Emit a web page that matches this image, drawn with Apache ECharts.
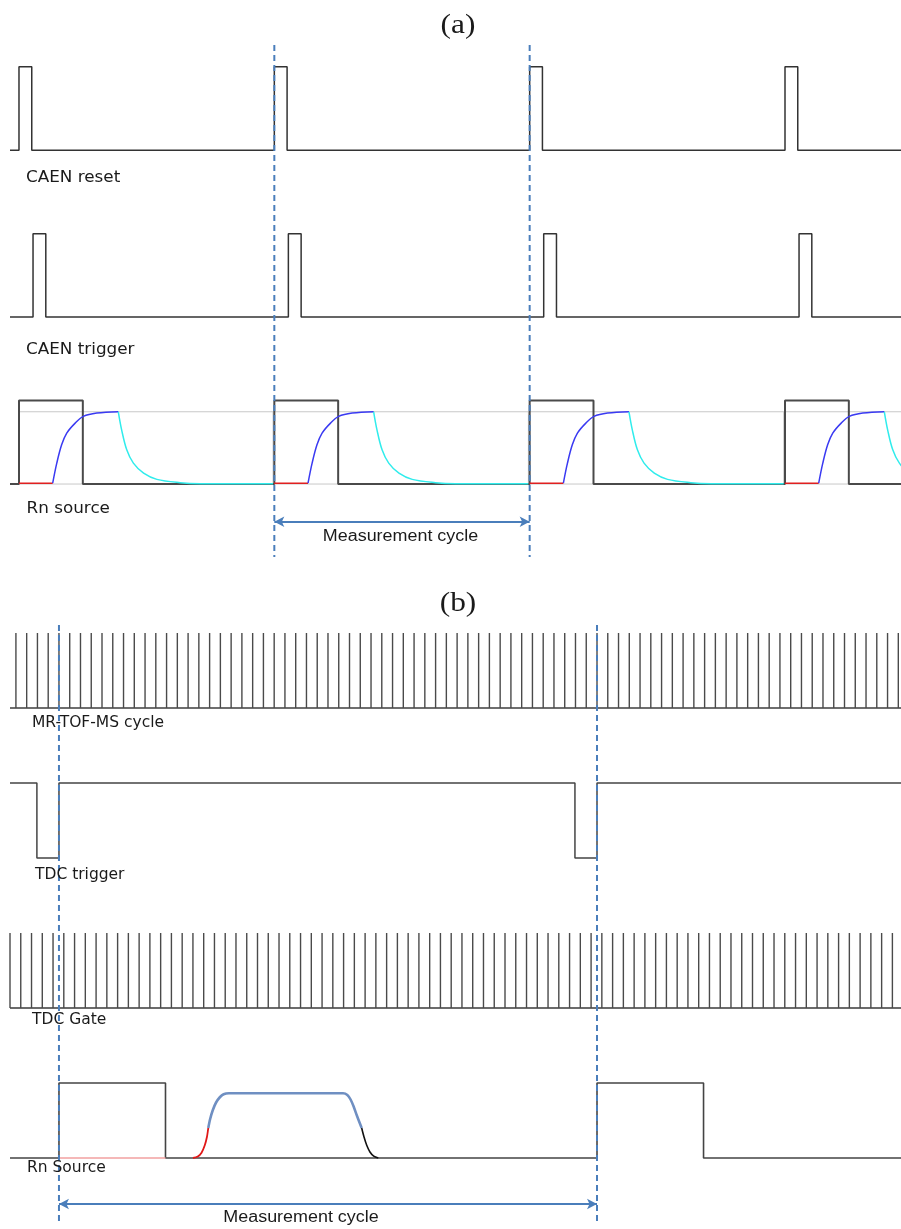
<!DOCTYPE html>
<html>
<head>
<meta charset="utf-8">
<script src="https://cdn.jsdelivr.net/npm/echarts@6/dist/echarts.min.js"></script>
<style>
  html, body { margin: 0; padding: 0; background: #ffffff; }
  #chart { width: 901px; height: 1229px; }
</style>
</head>
<body>
<div id="chart"></div>
<script>
// ===== Panel (a): CAEN-driven sequence, time in measurement cycles =====
const caenResetStarts = [0, 1, 2, 3];
const caenResetWidth = 0.05;
const caenTriggerStarts = [0.055, 1.055, 2.055, 3.055];
const caenTriggerWidth = 0.05;
const rnSourceOnA = [[0, 0.25], [1, 1.25], [2, 2.25], [3, 3.25]];
const cycleStartsA = [0, 1, 2, 3];
// activity within one cycle: [fraction of cycle, relative level]
const rnWaitA = [[0, 0.01], [0.132, 0.01]];
const rnRiseA = [[0.132, 0.01], [0.148, 0.25], [0.167, 0.47], [0.187, 0.61], [0.22, 0.73],
                 [0.252, 0.81], [0.305, 0.85], [0.389, 0.866]];
const rnDecayA = [[0.389, 0.866], [0.402, 0.65], [0.422, 0.41], [0.448, 0.25], [0.488, 0.13],
                  [0.54, 0.056], [0.631, 0.016], [0.71, 0.004], [0.995, 0.002]];
const rnSaturationA = 0.866;
const rnFrameEndA = 0.995;
const measurementCycleA = [1, 2];
const rangeA = [-0.0352, 3.4543];

// ===== Panel (b): MR-TOF-MS driven sequence, time in ms =====
const mrTofTicks = [-80, -60, -40, -20, 0, 20, 40, 60, 80, 100, 120, 140, 160, 180, 200, 220, 240,
  260, 280, 300, 320, 340, 360, 380, 400, 420, 440, 460, 480, 500, 520, 540, 560, 580, 600, 620,
  640, 660, 680, 700, 720, 740, 760, 780, 800, 820, 840, 860, 880, 900, 920, 940, 960, 980, 1000,
  1020, 1040, 1060, 1080, 1100, 1120, 1140, 1160, 1180, 1200, 1220, 1240, 1260, 1280, 1300, 1320,
  1340, 1360, 1380, 1400, 1420, 1440, 1460, 1480, 1500, 1520, 1540, 1560];
const tdcGateTicks = [-91, -71, -51, -31, -11, 9, 29, 49, 69, 89, 109, 129, 149, 169, 189, 209,
  229, 249, 269, 289, 309, 329, 349, 369, 389, 409, 429, 449, 469, 489, 509, 529, 549, 569, 589,
  609, 629, 649, 669, 689, 709, 729, 749, 769, 789, 809, 829, 849, 869, 889, 909, 929, 949, 969,
  989, 1009, 1029, 1049, 1069, 1089, 1109, 1129, 1149, 1169, 1189, 1209, 1229, 1249, 1269, 1289,
  1309, 1329, 1349, 1369, 1389, 1409, 1429, 1449, 1469, 1489, 1509, 1529, 1549];
const tdcTriggerLow = [[-41, 0], [959, 1000]];
const rnSourceOnB = [[0, 198], [1000, 1198]];
const rnWaitB = [[0, 0], [198, 0]];
const rnRiseB = [[249, 0], [258, 0.02], [265, 0.07], [271, 0.17], [275, 0.28], [277.5, 0.40]];
const rnPlateauB = [[277.5, 0.40], [281, 0.52], [286, 0.64], [292, 0.74], [299, 0.81], [306, 0.85],
                    [316, 0.863], [528, 0.863], [536, 0.84], [542, 0.78], [548, 0.68], [554, 0.56],
                    [562.6, 0.40]];
const rnFallB = [[562.6, 0.40], [567, 0.28], [572, 0.17], [578, 0.08], [585, 0.025], [593.5, 0]];
const measurementCycleB = [0, 1000];
const rangeB = [-91, 1565];

// row base levels (one pulse height = 1)
const ROW_A = { reset: 4, trigger: 2, rn: 0 };
const ROW_B = { mrtof: 6, trigger: 4, gate: 2, rn: 0 };

const INK = '#333333';
const GUIDE = '#4a7ebb';

// square wave: idle level outside intervals, active level inside
function stepWave(idle, active, intervals, range) {
  const pts = [[range[0], idle]];
  intervals.forEach(([a, b]) => {
    pts.push([a, idle], [a, active], [b, active], [b, idle]);
  });
  pts.push([range[1], idle]);
  return pts;
}
function shift(points, dx) { return points.map(p => [p[0] + dx, p[1]]); }

function lineSeries(grid, data, color, width, extra) {
  return Object.assign({
    type: 'line', xAxisIndex: grid, yAxisIndex: grid, data: data,
    showSymbol: false, symbol: 'none', silent: true, animation: false,
    lineStyle: { color: color, width: width }, z: 3
  }, extra || {});
}

// straight segments [x1, y1, x2, y2] drawn through the axes
function segmentSeries(grid, data, style, z) {
  return {
    type: 'custom', xAxisIndex: grid, yAxisIndex: grid, silent: true, animation: false, z: z || 3,
    data: data,
    encode: { x: [0, 2], y: [1, 3] },
    renderItem: function (params, api) {
      const p0 = api.coord([api.value(0), api.value(1)]);
      const p1 = api.coord([api.value(2), api.value(3)]);
      return {
        type: 'line',
        shape: { x1: p0[0], y1: p0[1], x2: p1[0], y2: p1[1] },
        style: Object.assign({ fill: null }, style)
      };
    }
  };
}

function arrowSeries(grid, x0, x1, y) {
  return {
    type: 'line', xAxisIndex: grid, yAxisIndex: grid, silent: true, animation: false,
    data: [[x0, y], [x1, y]], showSymbol: false, symbol: 'none',
    lineStyle: { width: 0, opacity: 0 },
    markLine: {
      silent: true, animation: false,
      symbol: ['arrow', 'arrow'], symbolSize: [8, 10],
      label: { show: false },
      lineStyle: { color: GUIDE, width: 1.8, type: 'solid' },
      data: [[{ coord: [x0, y] }, { coord: [x1, y] }]]
    }
  };
}

const series = [];

// ---- panel (a) ----
series.push(segmentSeries(0, [
  [0, rnSaturationA, rangeA[1], rnSaturationA],
  [0, 0, rangeA[1], 0]
].concat(cycleStartsA.map(c => [c + rnFrameEndA, 0, c + rnFrameEndA, rnSaturationA])),
  { stroke: '#c8c8c8', lineWidth: 1 }, 1));

series.push(lineSeries(0,
  stepWave(ROW_A.reset, ROW_A.reset + 1, caenResetStarts.map(s => [s, s + caenResetWidth]), rangeA),
  INK, 1.5));
series.push(lineSeries(0,
  stepWave(ROW_A.trigger, ROW_A.trigger + 1, caenTriggerStarts.map(s => [s, s + caenTriggerWidth]), rangeA),
  INK, 1.5));
series.push(lineSeries(0,
  stepWave(ROW_A.rn, ROW_A.rn + 1, rnSourceOnA, rangeA), '#4a4a4a', 2));

cycleStartsA.forEach(c => {
  series.push(lineSeries(0, shift(rnWaitA, c), '#e02020', 1.5, { z: 4 }));
  series.push(lineSeries(0, shift(rnRiseA, c), '#3a3af2', 1.5, { smooth: 0.35, z: 4 }));
  series.push(lineSeries(0, shift(rnDecayA, c), '#30ecec', 1.5, { smooth: 0.35, z: 4 }));
});

series.push(segmentSeries(0, measurementCycleA.map(t => [t, 5.26, t, -0.875]),
  { stroke: GUIDE, lineWidth: 2, lineDash: [6, 4] }, 10));
series.push(arrowSeries(0, measurementCycleA[0], measurementCycleA[1], -0.452));

// ---- panel (b) ----
series.push(segmentSeries(1, [[rangeB[0], ROW_B.mrtof, rangeB[1], ROW_B.mrtof]],
  { stroke: '#6e6e6e', lineWidth: 2 }, 3));
series.push(segmentSeries(1, mrTofTicks.map(t => [t, ROW_B.mrtof, t, ROW_B.mrtof + 1]),
  { stroke: '#4a4a4a', lineWidth: 1.4 }, 3));

series.push(lineSeries(1,
  stepWave(ROW_B.trigger + 1, ROW_B.trigger, tdcTriggerLow, rangeB), '#444444', 1.5));

series.push(segmentSeries(1, [[rangeB[0], ROW_B.gate, rangeB[1], ROW_B.gate]],
  { stroke: '#3a3a3a', lineWidth: 1.6 }, 3));
series.push(segmentSeries(1, tdcGateTicks.map(t => [t, ROW_B.gate, t, ROW_B.gate + 1]),
  { stroke: '#4a4a4a', lineWidth: 1.4 }, 3));

series.push(lineSeries(1,
  stepWave(ROW_B.rn, ROW_B.rn + 1, rnSourceOnB, rangeB), '#444444', 1.6));
series.push(lineSeries(1, rnWaitB, '#f2a0a0', 1.5, { z: 4 }));
series.push(lineSeries(1, rnRiseB, '#e01818', 1.8, { smooth: 0.3, z: 4 }));
series.push(lineSeries(1, rnPlateauB, '#6f8fc2', 2.6, { smooth: 0.3, z: 4 }));
series.push(lineSeries(1, rnFallB, '#111111', 1.6, { smooth: 0.3, z: 4 }));

series.push(segmentSeries(1, measurementCycleB.map(t => [t, 7.107, t, -0.893]),
  { stroke: GUIDE, lineWidth: 2, lineDash: [6, 4] }, 10));
series.push(arrowSeries(1, measurementCycleB[0], measurementCycleB[1], -0.613));

// ---- text ----
const LABEL_FONT_A = '15px "DejaVu Sans"';
const LABEL_FONT_B = '15.5px "DejaVu Sans"';
function text(str, x, y, font, align, scaleX) {
  return {
    type: 'text', x: x, y: y, scaleX: scaleX || 1, silent: true, z: 20,
    style: {
      text: str, font: font, fill: '#1a1a1a',
      align: align || 'left', verticalAlign: 'middle',
      textAlign: align || 'left', textVerticalAlign: 'middle'
    }
  };
}
const graphics = [
  text('(a)', 458, 26, '28px "Liberation Serif"', 'center', 1.12),
  text('CAEN reset', 26, 178, LABEL_FONT_A, 'left', 1.12),
  text('CAEN trigger', 26, 350, LABEL_FONT_A, 'left', 1.12),
  text('Rn source', 26.5, 509, LABEL_FONT_A, 'left', 1.12),
  text('Measurement cycle', 400.5, 537, '16px "Liberation Sans"', 'center', 1.12),
  text('(b)', 458, 604, '28px "Liberation Serif"', 'center', 1.12),
  text('MR-TOF-MS cycle', 32, 723, LABEL_FONT_B, 'left', 1),
  text('TDC trigger', 35, 875, LABEL_FONT_B, 'left', 1),
  text('TDC Gate', 32, 1020, LABEL_FONT_B, 'left', 1),
  text('Rn Source', 27, 1168, LABEL_FONT_B, 'left', 1),
  text('Measurement cycle', 301, 1218, '16px "Liberation Sans"', 'center', 1.12)
];

const hiddenAxis = { show: false, splitLine: { show: false }, axisLine: { show: false }, axisTick: { show: false }, axisLabel: { show: false } };

const chart = echarts.init(document.getElementById('chart'), null, { renderer: 'canvas' });
chart.setOption({
  backgroundColor: '#ffffff',
  animation: false,
  grid: [
    { left: 10, right: 0, top: 25, height: 542.5 },
    { left: 10, right: 0, top: 595.5, height: 630 }
  ],
  xAxis: [
    Object.assign({ type: 'value', gridIndex: 0, min: rangeA[0], max: rangeA[1] }, hiddenAxis),
    Object.assign({ type: 'value', gridIndex: 1, min: rangeB[0], max: rangeB[1] }, hiddenAxis)
  ],
  yAxis: [
    Object.assign({ type: 'value', gridIndex: 0, min: -1, max: 5.5 }, hiddenAxis),
    Object.assign({ type: 'value', gridIndex: 1, min: -0.9, max: 7.5 }, hiddenAxis)
  ],
  graphic: graphics,
  series: series
});
</script>
</body>
</html>
